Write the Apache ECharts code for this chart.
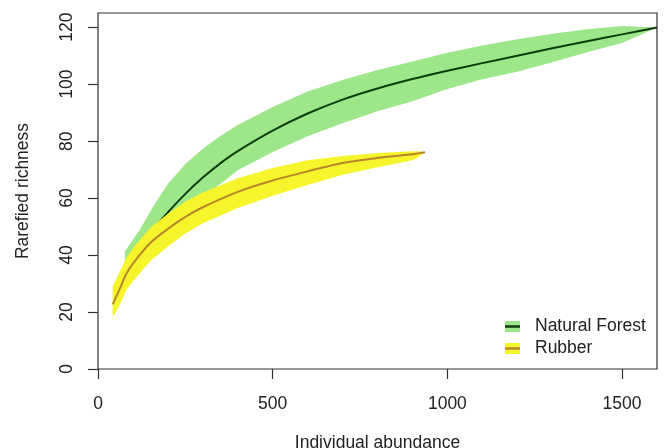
<!DOCTYPE html>
<html>
<head>
<meta charset="utf-8">
<script src="https://cdn.jsdelivr.net/npm/echarts@6/dist/echarts.min.js"></script>
<style>html,body{margin:0;padding:0;background:#fff}#c{width:664px;height:448px}</style>
</head>
<body>
<div id="c"></div>
<script>
// Natural Forest rarefaction curve
var nfX     = [77, 120, 160, 200, 250, 300, 350, 400, 500, 600, 700, 800, 900, 1000, 1100, 1200, 1300, 1400, 1500, 1600];
var nfMean  = [35.5, 43, 49.3, 55, 61.5, 67.2, 72.2, 76.5, 83.7, 89.7, 94.6, 98.5, 101.8, 104.7, 107.4, 110, 112.6, 115.1, 117.5, 119.9];
var nfUpper = [41.3, 49, 57.5, 65, 72, 77.3, 81.8, 85.7, 92, 97.4, 101.5, 105, 108, 111, 113.6, 115.8, 117.7, 119.3, 120.4, 119.9];
var nfLower = [33, 39, 44.5, 49.5, 55, 60.5, 65, 69.8, 76.2, 81.7, 86.3, 90.5, 94, 98.3, 101.7, 104.4, 107.7, 111.2, 114.5, 119.9];
// Rubber rarefaction curve
var rbX     = [42, 60, 80, 100, 150, 200, 250, 300, 400, 500, 600, 700, 800, 900, 920, 936];
var rbMean  = [22.7, 27.5, 33.2, 37, 44.3, 49.2, 53.4, 56.8, 62.2, 66.2, 69.4, 72.3, 74.1, 75.4, 75.8, 76.1];
var rbUpper = [29, 33.5, 38.7, 42.5, 49.6, 54.5, 58.8, 62, 67, 70.6, 73.3, 74.8, 75.8, 76.5, 76.5, 76.1];
var rbLower = [18.2, 22, 27.4, 30.8, 37.9, 43, 47.6, 51.2, 56.5, 60.8, 64.6, 68.2, 70.8, 73.3, 74.6, 76.1];
// Axis ticks
var xTicks = [0, 500, 1000, 1500];
var yTicks = [0, 20, 40, 60, 80, 100, 120];
var legendNames = ['Natural Forest', 'Rubber'];

var FONT = 'Liberation Sans, Arial, Helvetica, sans-serif';
var FS = 17.5;

function band(xs, lo, hi, color, z) {
  return {
    type: 'custom',
    coordinateSystem: 'cartesian2d',
    silent: true,
    z: z,
    data: xs.map(function (x, i) { return [x, lo[i], hi[i]]; }),
    encode: { x: 0, y: [1, 2] },
    renderItem: function (params, api) {
      if (params.dataIndex !== 0) return null;
      var pts = [];
      for (var i = 0; i < xs.length; i++) pts.push(api.coord([xs[i], hi[i]]));
      for (var j = xs.length - 1; j >= 0; j--) pts.push(api.coord([xs[j], lo[j]]));
      return { type: 'polygon', shape: { points: pts, smooth: 0 }, style: { fill: color, stroke: null } };
    }
  };
}
function meanLine(xs, ys, color, z) {
  return {
    type: 'line',
    z: z,
    data: xs.map(function (x, i) { return [x, ys[i]]; }),
    showSymbol: false,
    smooth: 0.25,
    silent: true,
    lineStyle: { color: color, width: 2 }
  };
}

var NF_BAND = '#9ee68a', NF_LINE = '#0d3d0d';
var RB_BAND = '#f6f52c', RB_LINE = '#b8862a';
function plain(v) { return String(v); }

var chart = echarts.init(document.getElementById('c'), null, { renderer: 'canvas' });
chart.setOption({
  animation: false,
  backgroundColor: '#fff',
  grid: { left: 98, right: 7, top: 13, bottom: 79, containLabel: false, outerBoundsMode: 'none', show: true, borderColor: '#333', borderWidth: 1.2, backgroundColor: 'transparent' },
  xAxis: {
    type: 'value', min: 0, max: 1600,
    name: 'Individual abundance', nameLocation: 'middle', nameGap: 65,
    nameTextStyle: { fontFamily: FONT, fontSize: FS, color: '#222' },
    axisLine: { show: false },
    axisTick: { show: true, length: 10, customValues: xTicks, lineStyle: { color: '#333', width: 1.2 } },
    axisLabel: { customValues: xTicks, formatter: plain, margin: 26, fontFamily: FONT, fontSize: FS, color: '#222' },
    splitLine: { show: false }
  },
  yAxis: {
    type: 'value', min: 0, max: 125,
    name: 'Rarefied richness', nameLocation: 'middle', nameGap: 66,
    nameTextStyle: { fontFamily: FONT, fontSize: FS, color: '#222' },
    axisLine: { show: false },
    axisTick: { show: true, length: 10, customValues: yTicks, lineStyle: { color: '#333', width: 1.2 } },
    axisLabel: { customValues: yTicks, formatter: plain, rotate: 90, margin: 22, fontFamily: FONT, fontSize: FS, color: '#222' },
    splitLine: { show: false }
  },
  series: [
    band(nfX, nfLower, nfUpper, NF_BAND, 1),
    meanLine(nfX, nfMean, NF_LINE, 2),
    band(rbX, rbLower, rbUpper, RB_BAND, 3),
    meanLine(rbX, rbMean, RB_LINE, 4)
  ],
  graphic: [
    { type: 'rect', shape: { x: 505, y: 321, width: 15, height: 11 }, style: { fill: NF_BAND } },
    { type: 'line', shape: { x1: 505, y1: 326.5, x2: 520, y2: 326.5 }, style: { stroke: NF_LINE, lineWidth: 2.5 } },
    { type: 'text', x: 535, y: 326.5, style: { text: legendNames[0], font: FS + 'px ' + FONT, fill: '#222', textVerticalAlign: 'middle', verticalAlign: 'middle' } },
    { type: 'rect', shape: { x: 505, y: 343, width: 15, height: 11 }, style: { fill: RB_BAND } },
    { type: 'line', shape: { x1: 505, y1: 348.5, x2: 520, y2: 348.5 }, style: { stroke: RB_LINE, lineWidth: 2.5 } },
    { type: 'text', x: 535, y: 348.5, style: { text: legendNames[1], font: FS + 'px ' + FONT, fill: '#222', textVerticalAlign: 'middle', verticalAlign: 'middle' } }
  ]
});
</script>
</body>
</html>
